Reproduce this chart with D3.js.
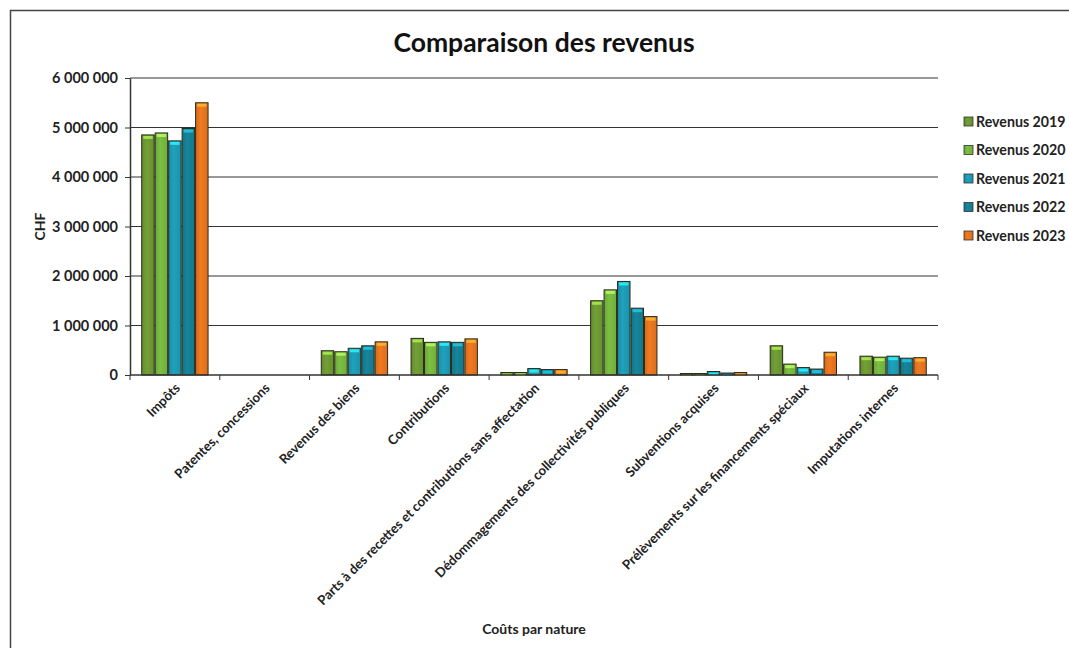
<!DOCTYPE html>
<html>
<head>
<meta charset="utf-8">
<script src="https://d3js.org/d3.v7.min.js"></script>
<style>
  body { margin: 0; background: #fff; }
  text { font-family: Lato, "Open Sans", sans-serif; }
</style>
</head>
<body>
<div id="chart"></div>
<script>
// data
var categories = ["Impôts", "Patentes, concessions", "Revenus des biens", "Contributions",
  "Parts à des recettes et contributions sans affectation", "Dédommagements des collectivités publiques",
  "Subventions acquises", "Prélèvements sur les financements spéciaux", "Imputations internes"];
var seriesNames = ["Revenus 2019", "Revenus 2020", "Revenus 2021", "Revenus 2022", "Revenus 2023"];
var rev2019 = [4850000, 0, 490000, 740000, 50000, 1500000, 30000, 590000, 380000];
var rev2020 = [4890000, 0, 470000, 660000, 50000, 1720000, 30000, 220000, 360000];
var rev2021 = [4730000, 0, 540000, 670000, 130000, 1890000, 70000, 150000, 380000];
var rev2022 = [4980000, 0, 590000, 660000, 110000, 1350000, 40000, 120000, 340000];
var rev2023 = [5500000, 0, 670000, 730000, 110000, 1180000, 50000, 460000, 350000];
var yTicks = [0, 1000000, 2000000, 3000000, 4000000, 5000000, 6000000];

var seriesValues = [rev2019, rev2020, rev2021, rev2022, rev2023];
var colors = ["#72a036", "#7cc043", "#1ea2bd", "#17859b", "#f27a20"];

var W = 1069, H = 648;
var margin = {top: 78, right: 131, bottom: 273, left: 130};
var width = W - margin.left - margin.right,
    height = H - margin.top - margin.bottom;

var svg = d3.select("#chart").append("svg")
  .attr("width", W).attr("height", H);

// chart frame
svg.append("rect")
  .attr("x", 10.5).attr("y", 10.5)
  .attr("width", W + 20).attr("height", H + 20)
  .attr("fill", "none").attr("stroke", "#444").attr("stroke-width", 1.5);

// gradients for the shaded bars
var defs = svg.append("defs");
colors.forEach(function(c, i) {
  var g = defs.append("linearGradient").attr("id", "grad" + i)
    .attr("x1", "0%").attr("x2", "100%").attr("y1", "0%").attr("y2", "0%");
  g.append("stop").attr("offset", "0%").attr("stop-color", d3.color(c).darker(0.4));
  g.append("stop").attr("offset", "40%").attr("stop-color", c);
  g.append("stop").attr("offset", "100%").attr("stop-color", d3.color(c).darker(0.3));
});

var g = svg.append("g").attr("transform", "translate(" + margin.left + "," + margin.top + ")");

var x0 = d3.scaleBand().domain(categories).range([0, width]).paddingInner(0.25).paddingOuter(0.125);
var x1 = d3.scaleBand().domain(seriesNames).range([0, x0.bandwidth()]);
var y = d3.scaleLinear().domain([0, 6000000]).range([height, 0]);

// gridlines
g.append("g")
  .selectAll("line").data(yTicks.slice(1)).enter().append("line")
  .attr("x1", 0).attr("x2", width)
  .attr("y1", function(d) { return y(d); }).attr("y2", function(d) { return y(d); })
  .attr("stroke", "#333").attr("stroke-width", 1.2);

// bars
var groups = g.selectAll(".grp").data(categories).enter().append("g")
  .attr("transform", function(d) { return "translate(" + x0(d) + ",0)"; });

groups.each(function(cat, ci) {
  var sel = d3.select(this);
  seriesValues.forEach(function(vals, si) {
    var v = vals[ci];
    if (v <= 0) return;
    var bx = x1(seriesNames[si]), bw = x1.bandwidth();
    sel.append("rect")
      .attr("x", bx + 0.5).attr("y", y(v))
      .attr("width", bw - 1).attr("height", height - y(v))
      .attr("fill", "url(#grad" + si + ")")
      .attr("stroke", "#2a2a1a").attr("stroke-width", 1);
    // light cap on top
    var capH = Math.min(3, height - y(v));
    sel.append("rect")
      .attr("x", bx + 2).attr("y", y(v) + 1)
      .attr("width", bw - 4).attr("height", capH)
      .attr("fill", d3.color(colors[si]).brighter(1.2))
      .attr("opacity", 0.8);
  });
});

// y axis
var yAxis = g.append("g")
  .call(d3.axisLeft(y).tickValues(yTicks).tickSize(5).tickSizeOuter(0)
    .tickFormat(function(d) { return d3.format(",")(d).replace(/,/g, " "); }));
yAxis.select(".domain").attr("stroke", "#333").attr("stroke-width", 1.5);
yAxis.selectAll(".tick line").attr("stroke", "#333");
yAxis.selectAll("text")
  .attr("x", -12)
  .style("font-size", "14.5px").style("font-weight", "bold").attr("fill", "#222");

// x axis with ticks on band boundaries
var xAxisG = g.append("g").attr("transform", "translate(0," + height + ")");
xAxisG.append("line").attr("x1", 0).attr("x2", width).attr("y1", 0).attr("y2", 0)
  .attr("stroke", "#333").attr("stroke-width", 1.5);
var step = x0.step();
xAxisG.selectAll(".tk").data(d3.range(categories.length + 1)).enter().append("line")
  .attr("x1", function(i) { return x0(categories[0]) - x0.step() * x0.paddingOuter() + i * step; })
  .attr("x2", function(i) { return x0(categories[0]) - x0.step() * x0.paddingOuter() + i * step; })
  .attr("y1", 0).attr("y2", 5).attr("stroke", "#333");

xAxisG.selectAll(".lbl").data(categories).enter().append("text")
  .attr("transform", function(d) {
    return "translate(" + (x0(d) + x0.bandwidth() / 2 + 6) + ",14) rotate(-45)";
  })
  .attr("text-anchor", "end")
  .style("font-size", "13.2px").style("font-weight", "bold").attr("fill", "#222")
  .text(function(d) { return d; });

// title
svg.append("text").attr("x", 544).attr("y", 52).attr("text-anchor", "middle")
  .style("font-size", "26.5px").style("font-weight", "bold").attr("fill", "#111")
  .text("Comparaison des revenus");

// axis titles
svg.append("text").attr("transform", "translate(45," + (margin.top + height / 2) + ") rotate(-90)")
  .attr("text-anchor", "middle")
  .style("font-size", "14px").style("font-weight", "bold").attr("fill", "#222")
  .text("CHF");
svg.append("text").attr("x", 534).attr("y", 634).attr("text-anchor", "middle")
  .style("font-size", "14px").style("font-weight", "bold").attr("fill", "#222")
  .text("Coûts par nature");

// legend
var legend = svg.append("g").attr("transform", "translate(964,122)");
seriesNames.forEach(function(name, i) {
  var row = legend.append("g").attr("transform", "translate(0," + (i * 28.5) + ")");
  row.append("rect").attr("x", 0).attr("y", -5).attr("width", 9).attr("height", 9)
    .attr("fill", "url(#grad" + i + ")").attr("stroke", "#333").attr("stroke-width", 0.8);
  row.append("text").attr("x", 12).attr("y", 0).attr("dy", "0.35em")
    .style("font-size", "14.2px").style("font-weight", "bold").attr("fill", "#222")
    .text(name);
});
</script>
</body>
</html>
